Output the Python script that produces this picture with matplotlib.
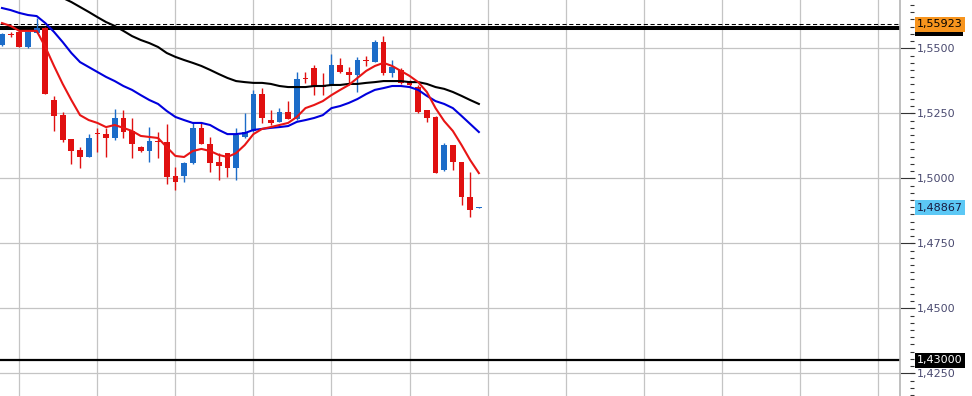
import numpy as np
import matplotlib
matplotlib.use('Agg')
import matplotlib.pyplot as plt
from matplotlib.ticker import MultipleLocator, FuncFormatter, NullLocator
from matplotlib.transforms import blended_transform_factory
from matplotlib.patches import Rectangle

# daily candles (open, high, low, close)
opens = [1.5513, 1.5555, 1.5563, 1.5505, 1.5559, 1.5578, 1.5301, 1.5243, 1.5151, 1.5109,
         1.5082, 1.5174, 1.5170, 1.5155, 1.5232, 1.5182, 1.5120, 1.5105, 1.5144, 1.5140,
         1.5009, 1.5009, 1.5059, 1.5194, 1.5132, 1.5063, 1.5097, 1.5040, 1.5159, 1.5182,
         1.5324, 1.5224, 1.5217, 1.5255, 1.5228, 1.5386, 1.5424, 1.5359, 1.5359, 1.5436,
         1.5409, 1.5397, 1.5455, 1.5447, 1.5524, 1.5405, 1.5417, 1.5374, 1.5351, 1.5263,
         1.5236, 1.5032, 1.5128, 1.5063, 1.4928, 1.4885]
highs = [1.5559, 1.5563, 1.5567, 1.5567, 1.5617, 1.5582, 1.5317, 1.5255, 1.5151, 1.5120,
         1.5170, 1.5194, 1.5194, 1.5267, 1.5263, 1.5232, 1.5124, 1.5197, 1.5178, 1.5209,
         1.5043, 1.5063, 1.5217, 1.5217, 1.5159, 1.5097, 1.5097, 1.5194, 1.5251, 1.5340,
         1.5347, 1.5263, 1.5270, 1.5297, 1.5409, 1.5409, 1.5436, 1.5405, 1.5478, 1.5463,
         1.5428, 1.5467, 1.5470, 1.5532, 1.5547, 1.5455, 1.5424, 1.5378, 1.5359, 1.5263,
         1.5240, 1.5136, 1.5128, 1.5063, 1.5024, 1.4889]
lows = [1.5509, 1.5543, 1.5505, 1.5501, 1.5559, 1.5324, 1.5182, 1.5140, 1.5055, 1.5040,
        1.5082, 1.5101, 1.5082, 1.5147, 1.5155, 1.5078, 1.5101, 1.5063, 1.5078, 1.4978,
        1.4955, 1.4986, 1.5055, 1.5132, 1.5024, 1.4993, 1.5005, 1.4993, 1.5155, 1.5178,
        1.5213, 1.5205, 1.5217, 1.5228, 1.5224, 1.5367, 1.5320, 1.5320, 1.5359, 1.5405,
        1.5359, 1.5332, 1.5432, 1.5447, 1.5397, 1.5390, 1.5363, 1.5351, 1.5251, 1.5217,
        1.5020, 1.5028, 1.5032, 1.4897, 1.4851, 1.4885]
closes = [1.5555, 1.5551, 1.5505, 1.5563, 1.5578, 1.5324, 1.5240, 1.5147, 1.5105, 1.5082,
          1.5155, 1.5170, 1.5155, 1.5232, 1.5178, 1.5132, 1.5105, 1.5144, 1.5140, 1.5005,
          1.4986, 1.5059, 1.5194, 1.5132, 1.5059, 1.5047, 1.5040, 1.5167, 1.5178, 1.5324,
          1.5232, 1.5213, 1.5255, 1.5228, 1.5382, 1.5382, 1.5351, 1.5351, 1.5436, 1.5409,
          1.5397, 1.5455, 1.5451, 1.5524, 1.5405, 1.5428, 1.5367, 1.5359, 1.5255, 1.5232,
          1.5020, 1.5128, 1.5063, 1.4928, 1.4878, 1.48867]

# moving averages as drawn on the chart
ma_fast = [1.5597, 1.5586, 1.5567, 1.5567, 1.5567, 1.5505, 1.5432, 1.5363, 1.5301, 1.5243,
           1.5224, 1.5213, 1.5197, 1.5205, 1.5194, 1.5182, 1.5163, 1.5159, 1.5155, 1.5120,
           1.5086, 1.5082, 1.5105, 1.5113, 1.5105, 1.5090, 1.5082, 1.5097, 1.5128, 1.5170,
           1.5190, 1.5197, 1.5205, 1.5213, 1.5236, 1.5270, 1.5282, 1.5297, 1.5320, 1.5340,
           1.5359, 1.5386, 1.5413, 1.5432, 1.5444, 1.5432, 1.5413, 1.5394, 1.5370, 1.5332,
           1.5270, 1.5220, 1.5182, 1.5128, 1.5070, 1.5020]
ma_mid = [1.5655, 1.5647, 1.5636, 1.5628, 1.5624, 1.5597, 1.5563, 1.5524, 1.5482, 1.5447,
          1.5428, 1.5409, 1.5390, 1.5374, 1.5355, 1.5340, 1.5320, 1.5301, 1.5286, 1.5259,
          1.5236, 1.5224, 1.5213, 1.5213, 1.5205, 1.5186, 1.5170, 1.5170, 1.5174, 1.5186,
          1.5190, 1.5194, 1.5197, 1.5201, 1.5217, 1.5224, 1.5232, 1.5243, 1.5270, 1.5278,
          1.5290, 1.5305, 1.5324, 1.5340, 1.5347, 1.5355, 1.5355, 1.5351, 1.5340, 1.5317,
          1.5297, 1.5286, 1.5270, 1.5240, 1.5209, 1.5178]
ma_slow = [np.nan, np.nan, np.nan, np.nan, np.nan, 1.5743, 1.5717, 1.5694, 1.5678, 1.5659,
           1.5640, 1.5620, 1.5601, 1.5586, 1.5567, 1.5547, 1.5532, 1.5520, 1.5505, 1.5482,
           1.5467, 1.5455, 1.5444, 1.5432, 1.5417, 1.5401, 1.5386, 1.5374, 1.5370, 1.5367,
           1.5367, 1.5363, 1.5355, 1.5351, 1.5351, 1.5351, 1.5355, 1.5355, 1.5359, 1.5359,
           1.5363, 1.5363, 1.5367, 1.5370, 1.5374, 1.5374, 1.5374, 1.5370, 1.5370, 1.5363,
           1.5351, 1.5344, 1.5332, 1.5317, 1.5301, 1.5286]

level_top = 1.5578
ask_price = 1.55923
last_price = 1.48867
level_low = 1.43

RED = '#e01010'
BLUE = '#1c6cc8'

def comma(v, pos=None):
    return f'{v:.4f}'.replace('.', ',')

plt.rcParams['font.family'] = 'DejaVu Sans'
fig = plt.figure(figsize=(9.72, 3.96), dpi=100)
ax = fig.add_axes([0, 0, 900 / 972, 1])

x = np.arange(len(opens))
o = np.array(opens); c = np.array(closes)
up = c >= o
cols = np.where(up, BLUE, RED)

ax.vlines(x, lows, highs, colors=cols, linewidth=1, zorder=3)
ax.bar(x, np.maximum(np.abs(c - o), 0.0003), bottom=np.minimum(o, c), width=0.66,
       color=cols, linewidth=0, zorder=3)

ax.plot(x, ma_slow, color='black', lw=1.5, zorder=4)
ax.plot(x, ma_mid, color='#0000dd', lw=1.5, zorder=4)
ax.plot(x, ma_fast, color='#e81515', lw=1.5, zorder=5)

ax.axhline(level_top, color='black', lw=2.9, zorder=2)
ax.axhline(ask_price, color='black', lw=0.75, ls=(0, (4, 2.5)), zorder=2)
ax.axhline(level_low, color='black', lw=1.6, zorder=2)

ax.set_xlim(-0.23, 103.57)
ax.set_ylim(1.41627, 1.56858)
ax.set_xticks(np.arange(2, 102, 9))
ax.xaxis.set_ticklabels([])
ax.tick_params(axis='x', length=0)
ax.grid(True, color='#c4c4c4', lw=0.9, zorder=0)
ax.set_axisbelow(True)

for s in ['left', 'top', 'bottom']:
    ax.spines[s].set_visible(False)
ax.spines['right'].set_color('#b4b4b4')
ax.spines['right'].set_linewidth(1.2)

ax.yaxis.tick_right()
ax.yaxis.set_major_locator(MultipleLocator(0.025))
ax.yaxis.set_major_formatter(FuncFormatter(comma))
ax.tick_params(axis='y', which='major', length=10.8, width=0.8, color='#333333',
               pad=1.5, labelsize=8, labelcolor='#4a4a70')
ax.yaxis.set_minor_locator(NullLocator())

sec = ax.secondary_yaxis(1 + 10 / 900)
sec.spines['right'].set_visible(False)
sec.yaxis.set_major_locator(NullLocator())
sec.yaxis.set_minor_locator(MultipleLocator(0.025 / 9))
sec.tick_params(axis='y', which='minor', length=3.2, width=0.8, color='#333333')

# price boxes on the right
tr = blended_transform_factory(ax.transAxes, ax.transData)
bx = 917 / 900
# black box of the top level, mostly hidden behind the orange one
ax.add_patch(Rectangle((915 / 900, level_top - 0.0031), 48 / 900, 0.0062, transform=tr,
                       facecolor='black', edgecolor='none', clip_on=False, zorder=6))
ax.text(bx, ask_price, '1,55923', transform=tr, va='center', ha='left', fontsize=8,
        color='black', clip_on=False, zorder=7,
        bbox=dict(boxstyle='square,pad=0.22', fc='#f7941d', ec='none'))
ax.text(bx, last_price, '1,48867', transform=tr, va='center', ha='left', fontsize=8,
        color='#1a1a40', clip_on=False, zorder=7,
        bbox=dict(boxstyle='square,pad=0.22', fc='#5cc8f5', ec='none'))
ax.text(bx, level_low, '1,43000', transform=tr, va='center', ha='left', fontsize=8,
        color='white', clip_on=False, zorder=7,
        bbox=dict(boxstyle='square,pad=0.22', fc='black', ec='none'))

fig.savefig('out.png', dpi=100)
